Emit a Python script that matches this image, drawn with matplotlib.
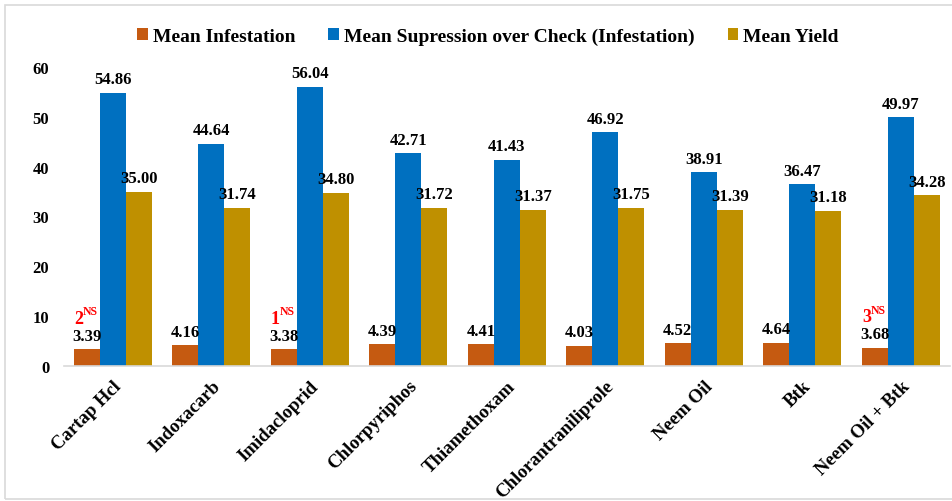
import matplotlib
matplotlib.use("Agg")
import matplotlib.pyplot as plt
import numpy as np
from matplotlib.patches import Rectangle

categories = ["Cartap Hcl", "Indoxacarb", "Imidacloprid", "Chlorpyriphos", "Thiamethoxam",
              "Chlorantraniliprole", "Neem Oil", "Btk", "Neem Oil + Btk"]
infestation = [3.39, 4.16, 3.38, 4.39, 4.41, 4.03, 4.52, 4.64, 3.68]
suppression = [54.86, 44.64, 56.04, 42.71, 41.43, 46.92, 38.91, 36.47, 49.97]
yield_ = [35.00, 31.74, 34.80, 31.72, 31.37, 31.75, 31.39, 31.18, 34.28]
series_names = ["Mean Infestation", "Mean Supression over Check (Infestation)", "Mean Yield"]
colors = ["#C55A11", "#0070C0", "#BF9000"]
# rank annotations (category index, rank)
ns_marks = [(0, "2"), (2, "1"), (8, "3")]

plt.rcParams['font.family'] = ['Liberation Serif', 'DejaVu Serif']
plt.rcParams['font.weight'] = 'bold'

W, H = 952, 502
fig = plt.figure(figsize=(W / 100, H / 100), dpi=100)
ax = fig.add_axes([63.75 / W, 1 - 367 / H, (950 - 63.75) / W, (367 - 68) / H])

# border
fig.patches.append(Rectangle((5 / W, 2 / H), 1.2, (494) / H, transform=fig.transFigure,
                             fill=False, edgecolor="#D9D9D9", linewidth=1.2, clip_on=False))

x = np.arange(len(categories))
bw = 0.264
data = [infestation, suppression, yield_]
for i, (vals, c, name) in enumerate(zip(data, colors, series_names)):
    pos = x + (i - 1) * bw
    ax.bar(pos, vals, width=bw, color=c, label=name, edgecolor="none")
    for p, v in zip(pos, vals):
        ax.text(p, v + 1.1, f"{v:.2f}", ha="center", va="bottom", fontsize=12,
                fontweight="bold", clip_on=False)

for idx, r in ns_marks:
    p = x[idx] - bw
    v = infestation[idx]
    ax.text(p - 0.04, v + 4.5, r, ha="right", va="bottom", fontsize=13,
            fontweight="bold", color="red")
    ax.text(p - 0.04, v + 6.4, "NS", ha="left", va="bottom", fontsize=8.5,
            fontweight="bold", color="red")

ax.set_xlim(-0.5, len(categories) - 0.5)
ax.set_ylim(0, 60)
ax.set_yticks(np.arange(0, 61, 10))
ax.tick_params(axis="y", length=0, pad=10.5, labelsize=12)
ax.tick_params(axis="x", length=0, pad=8)
ax.set_xticks(x)
ax.set_xticklabels(categories, rotation=45, ha="right", rotation_mode="anchor",
                   fontsize=13.5, fontweight="bold")
for lab in ax.get_yticklabels():
    lab.set_fontweight("bold")
for s in ["top", "right", "left"]:
    ax.spines[s].set_visible(False)
ax.spines["bottom"].set_color("#D9D9D9")
ax.spines["bottom"].set_linewidth(1.2)

leg = fig.legend(loc="center", bbox_to_anchor=(488 / W, 1 - 37 / H), ncol=3, frameon=False,
                 handlelength=0.55, handleheight=0.55, handletextpad=0.25,
                 columnspacing=1.7, prop={"weight": "bold", "size": 14})

fig.savefig("out.png", dpi=100)
